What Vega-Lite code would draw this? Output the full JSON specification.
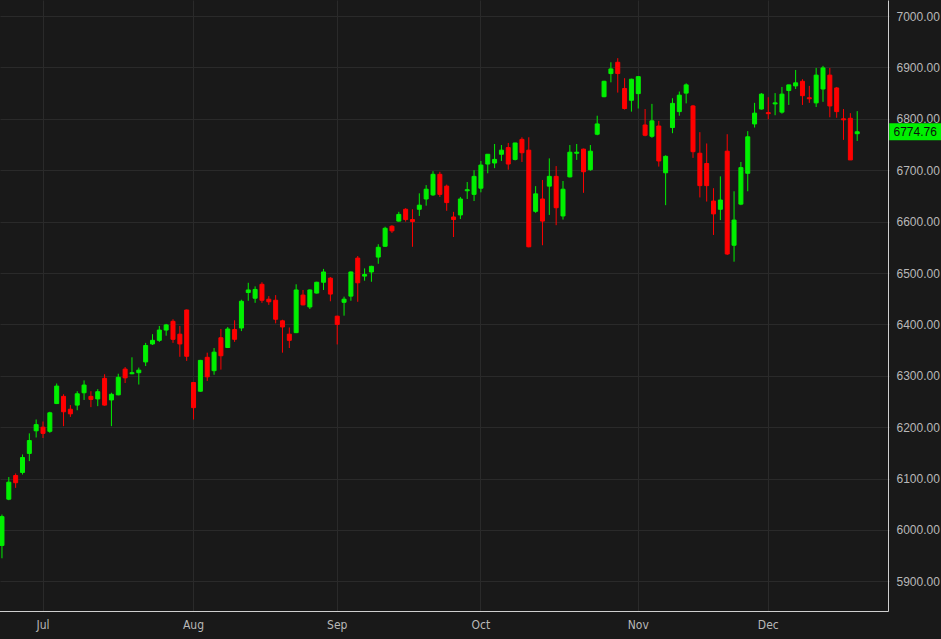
{
  "$schema": "https://vega.github.io/schema/vega-lite/v6.json",
  "width": 888,
  "height": 611,
  "autosize": "none",
  "padding": {"left": 0, "top": 0, "right": 53, "bottom": 28},
  "background": "#191919",
  "config": {"view": {"stroke": null}},
  "data": {"values": [
    {"date":"2025-06-23","open":5970,"high":6030,"low":5945,"close":6026},
    {"date":"2025-06-24","open":6060,"high":6103,"low":6058,"close":6093},
    {"date":"2025-06-25","open":6106,"high":6110,"low":6082,"close":6092},
    {"date":"2025-06-26","open":6112,"high":6147,"low":6108,"close":6141},
    {"date":"2025-06-27","open":6149,"high":6188,"low":6134,"close":6174},
    {"date":"2025-06-30","open":6193,"high":6215,"low":6180,"close":6205},
    {"date":"2025-07-01","open":6200,"high":6211,"low":6179,"close":6188},
    {"date":"2025-07-02","open":6192,"high":6230,"low":6189,"close":6228},
    {"date":"2025-07-03","open":6246,"high":6285,"low":6245,"close":6280},
    {"date":"2025-07-07","open":6260,"high":6264,"low":6202,"close":6230},
    {"date":"2025-07-08","open":6235,"high":6243,"low":6220,"close":6226},
    {"date":"2025-07-09","open":6243,"high":6270,"low":6233,"close":6265},
    {"date":"2025-07-10","open":6267,"high":6291,"low":6253,"close":6282},
    {"date":"2025-07-11","open":6260,"high":6270,"low":6239,"close":6254},
    {"date":"2025-07-14","open":6255,"high":6274,"low":6241,"close":6269},
    {"date":"2025-07-15","open":6295,"high":6303,"low":6242,"close":6243},
    {"date":"2025-07-16","open":6253,"high":6267,"low":6202,"close":6264},
    {"date":"2025-07-17","open":6263,"high":6304,"low":6262,"close":6297},
    {"date":"2025-07-18","open":6313,"high":6317,"low":6286,"close":6296},
    {"date":"2025-07-21","open":6304,"high":6336,"low":6303,"close":6306},
    {"date":"2025-07-22","open":6306,"high":6316,"low":6283,"close":6311},
    {"date":"2025-07-23","open":6327,"high":6364,"low":6319,"close":6359},
    {"date":"2025-07-24","open":6362,"high":6381,"low":6360,"close":6369},
    {"date":"2025-07-25","open":6369,"high":6397,"low":6366,"close":6389},
    {"date":"2025-07-28","open":6389,"high":6401,"low":6378,"close":6399},
    {"date":"2025-07-29","open":6406,"high":6410,"low":6364,"close":6371},
    {"date":"2025-07-30","open":6381,"high":6397,"low":6337,"close":6362},
    {"date":"2025-07-31","open":6428,"high":6429,"low":6329,"close":6338},
    {"date":"2025-08-01","open":6287,"high":6288,"low":6215,"close":6238},
    {"date":"2025-08-04","open":6270,"high":6331,"low":6269,"close":6330},
    {"date":"2025-08-05","open":6336,"high":6345,"low":6290,"close":6298},
    {"date":"2025-08-06","open":6310,"high":6354,"low":6302,"close":6346},
    {"date":"2025-08-07","open":6374,"high":6391,"low":6312,"close":6339},
    {"date":"2025-08-08","open":6355,"high":6395,"low":6354,"close":6391},
    {"date":"2025-08-11","open":6390,"high":6408,"low":6366,"close":6371},
    {"date":"2025-08-12","open":6393,"high":6448,"low":6387,"close":6445},
    {"date":"2025-08-13","open":6462,"high":6481,"low":6446,"close":6467},
    {"date":"2025-08-14","open":6451,"high":6474,"low":6442,"close":6468},
    {"date":"2025-08-15","open":6478,"high":6482,"low":6442,"close":6447},
    {"date":"2025-08-18","open":6449,"high":6455,"low":6438,"close":6444},
    {"date":"2025-08-19","open":6447,"high":6457,"low":6402,"close":6410},
    {"date":"2025-08-20","open":6407,"high":6409,"low":6345,"close":6395},
    {"date":"2025-08-21","open":6381,"high":6394,"low":6354,"close":6369},
    {"date":"2025-08-22","open":6384,"high":6478,"low":6383,"close":6467},
    {"date":"2025-08-25","open":6457,"high":6467,"low":6437,"close":6438},
    {"date":"2025-08-26","open":6434,"high":6468,"low":6430,"close":6467},
    {"date":"2025-08-27","open":6461,"high":6483,"low":6460,"close":6482},
    {"date":"2025-08-28","open":6482,"high":6508,"low":6467,"close":6502},
    {"date":"2025-08-29","open":6490,"high":6492,"low":6445,"close":6459},
    {"date":"2025-09-02","open":6416,"high":6417,"low":6361,"close":6400},
    {"date":"2025-09-03","open":6443,"high":6454,"low":6417,"close":6449},
    {"date":"2025-09-04","open":6455,"high":6503,"low":6446,"close":6502},
    {"date":"2025-09-05","open":6529,"high":6533,"low":6444,"close":6481},
    {"date":"2025-09-08","open":6494,"high":6509,"low":6485,"close":6497},
    {"date":"2025-09-09","open":6502,"high":6514,"low":6483,"close":6513},
    {"date":"2025-09-10","open":6531,"high":6556,"low":6518,"close":6550},
    {"date":"2025-09-11","open":6552,"high":6590,"low":6551,"close":6587},
    {"date":"2025-09-12","open":6591,"high":6593,"low":6578,"close":6582},
    {"date":"2025-09-15","open":6601,"high":6619,"low":6600,"close":6614},
    {"date":"2025-09-16","open":6624,"high":6626,"low":6600,"close":6604},
    {"date":"2025-09-17","open":6604,"high":6624,"low":6551,"close":6600},
    {"date":"2025-09-18","open":6624,"high":6655,"low":6611,"close":6632},
    {"date":"2025-09-19","open":6644,"high":6671,"low":6631,"close":6663},
    {"date":"2025-09-22","open":6652,"high":6698,"low":6650,"close":6692},
    {"date":"2025-09-23","open":6692,"high":6697,"low":6648,"close":6653},
    {"date":"2025-09-24","open":6669,"high":6672,"low":6621,"close":6637},
    {"date":"2025-09-25","open":6609,"high":6619,"low":6570,"close":6604},
    {"date":"2025-09-26","open":6613,"high":6648,"low":6605,"close":6644},
    {"date":"2025-09-29","open":6660,"high":6677,"low":6644,"close":6662},
    {"date":"2025-09-30","open":6653,"high":6700,"low":6640,"close":6688},
    {"date":"2025-10-01","open":6665,"high":6718,"low":6657,"close":6710},
    {"date":"2025-10-02","open":6712,"high":6731,"low":6694,"close":6731},
    {"date":"2025-10-03","open":6714,"high":6751,"low":6704,"close":6721},
    {"date":"2025-10-06","open":6731,"high":6749,"low":6718,"close":6739},
    {"date":"2025-10-07","open":6744,"high":6753,"low":6701,"close":6712},
    {"date":"2025-10-08","open":6721,"high":6753,"low":6719,"close":6753},
    {"date":"2025-10-09","open":6760,"high":6764,"low":6716,"close":6734},
    {"date":"2025-10-10","open":6739,"high":6764,"low":6550,"close":6551},
    {"date":"2025-10-13","open":6620,"high":6669,"low":6617,"close":6654},
    {"date":"2025-10-14","open":6644,"high":6681,"low":6554,"close":6601},
    {"date":"2025-10-15","open":6669,"high":6723,"low":6613,"close":6688},
    {"date":"2025-10-16","open":6688,"high":6708,"low":6593,"close":6627},
    {"date":"2025-10-17","open":6611,"high":6679,"low":6604,"close":6663},
    {"date":"2025-10-20","open":6687,"high":6749,"low":6686,"close":6735},
    {"date":"2025-10-21","open":6733,"high":6751,"low":6720,"close":6735},
    {"date":"2025-10-22","open":6741,"high":6742,"low":6656,"close":6697},
    {"date":"2025-10-23","open":6701,"high":6749,"low":6699,"close":6737},
    {"date":"2025-10-24","open":6770,"high":6806,"low":6768,"close":6790},
    {"date":"2025-10-27","open":6843,"high":6874,"low":6842,"close":6873},
    {"date":"2025-10-28","open":6888,"high":6910,"low":6871,"close":6897},
    {"date":"2025-10-29","open":6910,"high":6918,"low":6851,"close":6888},
    {"date":"2025-10-30","open":6859,"high":6879,"low":6818,"close":6820},
    {"date":"2025-10-31","open":6836,"high":6878,"low":6814,"close":6877},
    {"date":"2025-11-03","open":6849,"high":6883,"low":6820,"close":6882},
    {"date":"2025-11-04","open":6788,"high":6819,"low":6766,"close":6768},
    {"date":"2025-11-05","open":6766,"high":6829,"low":6763,"close":6796},
    {"date":"2025-11-06","open":6786,"high":6796,"low":6707,"close":6718},
    {"date":"2025-11-07","open":6695,"high":6729,"low":6632,"close":6727},
    {"date":"2025-11-10","open":6783,"high":6840,"low":6772,"close":6830},
    {"date":"2025-11-11","open":6814,"high":6853,"low":6806,"close":6846},
    {"date":"2025-11-12","open":6850,"high":6869,"low":6830,"close":6866},
    {"date":"2025-11-13","open":6825,"high":6827,"low":6724,"close":6736},
    {"date":"2025-11-14","open":6733,"high":6774,"low":6647,"close":6670},
    {"date":"2025-11-17","open":6713,"high":6752,"low":6639,"close":6670},
    {"date":"2025-11-18","open":6640,"high":6665,"low":6574,"close":6615},
    {"date":"2025-11-19","open":6624,"high":6688,"low":6603,"close":6642},
    {"date":"2025-11-20","open":6737,"high":6770,"low":6535,"close":6537},
    {"date":"2025-11-21","open":6554,"high":6659,"low":6522,"close":6603},
    {"date":"2025-11-24","open":6634,"high":6716,"low":6632,"close":6705},
    {"date":"2025-11-25","open":6694,"high":6776,"low":6659,"close":6765},
    {"date":"2025-11-26","open":6790,"high":6831,"low":6783,"close":6811},
    {"date":"2025-11-28","open":6819,"high":6850,"low":6818,"close":6848},
    {"date":"2025-12-01","open":6812,"high":6842,"low":6799,"close":6810},
    {"date":"2025-12-02","open":6829,"high":6850,"low":6807,"close":6831},
    {"date":"2025-12-03","open":6813,"high":6862,"low":6810,"close":6848},
    {"date":"2025-12-04","open":6855,"high":6866,"low":6827,"close":6866},
    {"date":"2025-12-05","open":6864,"high":6895,"low":6858,"close":6870},
    {"date":"2025-12-08","open":6873,"high":6877,"low":6827,"close":6845},
    {"date":"2025-12-09","open":6841,"high":6864,"low":6831,"close":6839},
    {"date":"2025-12-10","open":6831,"high":6899,"low":6823,"close":6885},
    {"date":"2025-12-11","open":6858,"high":6903,"low":6833,"close":6899},
    {"date":"2025-12-12","open":6885,"high":6899,"low":6803,"close":6825},
    {"date":"2025-12-15","open":6860,"high":6862,"low":6802,"close":6814},
    {"date":"2025-12-16","open":6800,"high":6819,"low":6759,"close":6798},
    {"date":"2025-12-17","open":6801,"high":6811,"low":6720,"close":6720},
    {"date":"2025-12-18","open":6771,"high":6815,"low":6757,"close":6774.76}
  ]},
  "encoding": {
    "x": {
      "field": "date", "type": "ordinal", "title": null,
      "scale": {
        "domain": ["2025-06-23","2025-06-24","2025-06-25","2025-06-26","2025-06-27","2025-06-30",
          "2025-07-01","2025-07-02","2025-07-03","2025-07-07","2025-07-08","2025-07-09","2025-07-10","2025-07-11","2025-07-14","2025-07-15","2025-07-16","2025-07-17","2025-07-18","2025-07-21","2025-07-22","2025-07-23","2025-07-24","2025-07-25","2025-07-28","2025-07-29","2025-07-30","2025-07-31",
          "2025-08-01","2025-08-04","2025-08-05","2025-08-06","2025-08-07","2025-08-08","2025-08-11","2025-08-12","2025-08-13","2025-08-14","2025-08-15","2025-08-18","2025-08-19","2025-08-20","2025-08-21","2025-08-22","2025-08-25","2025-08-26","2025-08-27","2025-08-28","2025-08-29",
          "2025-09-02","2025-09-03","2025-09-04","2025-09-05","2025-09-08","2025-09-09","2025-09-10","2025-09-11","2025-09-12","2025-09-15","2025-09-16","2025-09-17","2025-09-18","2025-09-19","2025-09-22","2025-09-23","2025-09-24","2025-09-25","2025-09-26","2025-09-29","2025-09-30",
          "2025-10-01","2025-10-02","2025-10-03","2025-10-06","2025-10-07","2025-10-08","2025-10-09","2025-10-10","2025-10-13","2025-10-14","2025-10-15","2025-10-16","2025-10-17","2025-10-20","2025-10-21","2025-10-22","2025-10-23","2025-10-24","2025-10-27","2025-10-28","2025-10-29","2025-10-30","2025-10-31",
          "2025-11-03","2025-11-04","2025-11-05","2025-11-06","2025-11-07","2025-11-10","2025-11-11","2025-11-12","2025-11-13","2025-11-14","2025-11-17","2025-11-18","2025-11-19","2025-11-20","2025-11-21","2025-11-24","2025-11-25","2025-11-26","2025-11-28",
          "2025-12-01","2025-12-02","2025-12-03","2025-12-04","2025-12-05","2025-12-08","2025-12-09","2025-12-10","2025-12-11","2025-12-12","2025-12-15","2025-12-16","2025-12-17","2025-12-18",
          "2025-12-19","2025-12-22","2025-12-23","2025-12-24"],
        "range": [-1.46, 888], "paddingInner": 0, "paddingOuter": 0
      },
      "axis": {
        "values": ["2025-07-01", "2025-08-01", "2025-09-02", "2025-10-01", "2025-11-03", "2025-12-01"],
        "labelExpr": "utcFormat(toDate(datum.value), '%b')",
        "labelAngle": 0,
        "grid": true, "gridColor": "#2a2a2a", "gridWidth": 1,
        "ticks": false,
        "domainColor": "#cfcfcf", "domainWidth": 1,
        "labelColor": "#b8b8b8", "labelFontSize": 12,
        "labelFont": "Liberation Sans Narrow, DejaVu Sans Condensed, sans-serif",
        "labelPadding": 8
      }
    }
  },
  "layer": [
    {
      "mark": {"type": "rule", "strokeWidth": 1},
      "encoding": {
        "y": {"field": "low", "type": "quantitative", "title": null,
          "scale": {"domain": [5842.4, 7031.15], "nice": false, "zero": false},
          "axis": {"orient": "right", "values": [5900, 6000, 6100, 6200, 6300, 6400, 6500, 6600, 6700, 6800, 6900, 7000],
            "format": ".2f", "grid": true, "gridColor": "#2a2a2a", "ticks": false,
            "domainColor": "#cfcfcf", "labelColor": "#b8b8b8", "labelFontSize": 12,
            "labelFont": "Liberation Sans", "labelPadding": 8}},
        "y2": {"field": "high"},
        "color": {"condition": {"test": "datum.close >= datum.open", "value": "#00f000"}, "value": "#ff0000"}
      }
    },
    {
      "mark": {"type": "bar", "width": 4, "strokeWidth": 1},
      "encoding": {
        "y": {"field": "open", "type": "quantitative", "title": null,
          "scale": {"domain": [5842.4, 7031.15], "nice": false, "zero": false},
          "axis": {"orient": "right", "values": [5900, 6000, 6100, 6200, 6300, 6400, 6500, 6600, 6700, 6800, 6900, 7000],
            "format": ".2f", "grid": true, "gridColor": "#2a2a2a", "ticks": false,
            "domainColor": "#cfcfcf", "labelColor": "#b8b8b8", "labelFontSize": 12,
            "labelFont": "Liberation Sans", "labelPadding": 8}},
        "y2": {"field": "close"},
        "color": {"condition": {"test": "datum.close >= datum.open", "value": "#00f000"}, "value": "#ff0000"},
        "stroke": {"condition": {"test": "datum.close >= datum.open", "value": "#00f000"}, "value": "#ff0000"}
      }
    },
    {
      "transform": [{"filter": "datum.date === '2025-12-18'"}],
      "mark": {"type": "point", "shape": "M0.762,-0.2024L2.1,-0.2024L2.1,0.2024L0.762,0.2024Z", "size": 7056, "filled": true, "fill": "#00f000", "opacity": 1, "strokeWidth": 0},
      "encoding": {
        "y": {"field": "close", "type": "quantitative", "title": null,
          "scale": {"domain": [5842.4, 7031.15], "nice": false, "zero": false},
          "axis": {"orient": "right", "values": [5900, 6000, 6100, 6200, 6300, 6400, 6500, 6600, 6700, 6800, 6900, 7000],
            "format": ".2f", "grid": true, "gridColor": "#2a2a2a", "ticks": false,
            "domainColor": "#cfcfcf", "labelColor": "#b8b8b8", "labelFontSize": 12,
            "labelFont": "Liberation Sans", "labelPadding": 8}}
      }
    },
    {
      "transform": [{"filter": "datum.date === '2025-12-18'"}],
      "mark": {"type": "text", "dx": 58, "align": "center", "baseline": "middle", "fontSize": 12, "font": "Liberation Sans", "color": "#0c140c"},
      "encoding": {
        "y": {"field": "close", "type": "quantitative", "title": null,
          "scale": {"domain": [5842.4, 7031.15], "nice": false, "zero": false},
          "axis": {"orient": "right", "values": [5900, 6000, 6100, 6200, 6300, 6400, 6500, 6600, 6700, 6800, 6900, 7000],
            "format": ".2f", "grid": true, "gridColor": "#2a2a2a", "ticks": false,
            "domainColor": "#cfcfcf", "labelColor": "#b8b8b8", "labelFontSize": 12,
            "labelFont": "Liberation Sans", "labelPadding": 8}},
        "text": {"field": "close", "type": "quantitative", "format": ".2f"}
      }
    }
  ]
}
